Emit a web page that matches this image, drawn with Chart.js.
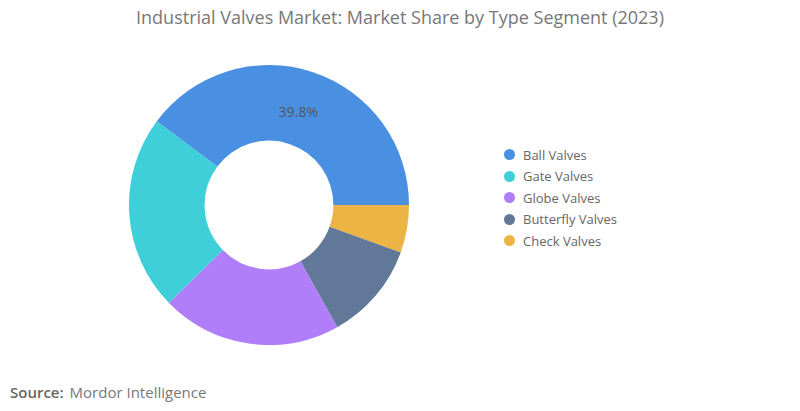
<!DOCTYPE html>
<html>
<head>
<meta charset="utf-8">
<script src="https://cdn.jsdelivr.net/npm/chart.js@4/dist/chart.umd.min.js"></script>
<style>
  body { margin: 0; width: 800px; height: 411px; background: #fff; font-family: "Open Sans", sans-serif; position: relative; overflow: hidden; }
  #title { position: absolute; top: 5px; left: 0; width: 800px; text-align: center; font-size: 18px; color: #777; }
  #chartBox { position: absolute; left: 129px; top: 65px; width: 280px; height: 280px; }
  #legend { position: absolute; left: 504px; top: 144px; font-size: 13px; color: #666; }
  #legend div { height: 21.5px; display: flex; align-items: center; }
  #legend span.dot { width: 11px; height: 11px; border-radius: 50%; display: inline-block; margin-right: 8px; }
  #source { position: absolute; left: 10px; top: 382px; font-size: 15px; color: #777; }
  #source b { color: #666; font-weight: 600; margin-right: 6px; }
</style>
</head>
<body>
<div id="title">Industrial Valves Market: Market Share by Type Segment (2023)</div>
<div id="chartBox"><canvas id="valvesChart"></canvas></div>
<div id="legend"></div>
<div id="source"><b>Source:</b>Mordor Intelligence</div>
<script>
// données
const categories = ['Ball Valves', 'Gate Valves', 'Globe Valves', 'Butterfly Valves', 'Check Valves'];
const shares = [39.8, 22.5, 20.8, 11.4, 5.5];
const colors = ['#4a90e2', '#3fcfd9', '#b07ef8', '#627899', '#ebb445'];

// the reference goes counter-clockwise, so feed the data reversed
const revLabels = categories.slice().reverse();
const revShares = shares.slice().reverse();
const revColors = colors.slice().reverse();

// legend in HTML
let legend = document.getElementById('legend');
categories.forEach((c, i) => {
    let row = document.createElement('div');
    row.innerHTML = '<span class="dot" style="background:' + colors[i] + '"></span>' + c;
    legend.appendChild(row);
});

const ballLabel = {
    id: 'ballLabel',
    afterDatasetsDraw(chart) {
        let meta = chart.getDatasetMeta(0);
        let arc = meta.data[revLabels.indexOf('Ball Valves')];
        let p = arc.tooltipPosition();
        let ctx = chart.ctx;
        ctx.save();
        ctx.font = '14px "Open Sans"';
        ctx.fillStyle = '#555';
        ctx.textAlign = 'center';
        ctx.textBaseline = 'middle';
        ctx.fillText(shares[0].toFixed(1) + '%', p.x - 3, p.y + 5);
        ctx.restore();
    }
};

new Chart(document.getElementById('valvesChart'), {
    type: 'doughnut',
    data: {
        labels: revLabels,
        datasets: [{ data: revShares, backgroundColor: revColors, borderWidth: 0 }]
    },
    options: {
        responsive: true,
        maintainAspectRatio: false,
        animation: false,
        rotation: 90,
        cutout: '46%',
        plugins: { legend: { display: false }, tooltip: { enabled: false } }
    },
    plugins: [ballLabel]
});
</script>
</body>
</html>
